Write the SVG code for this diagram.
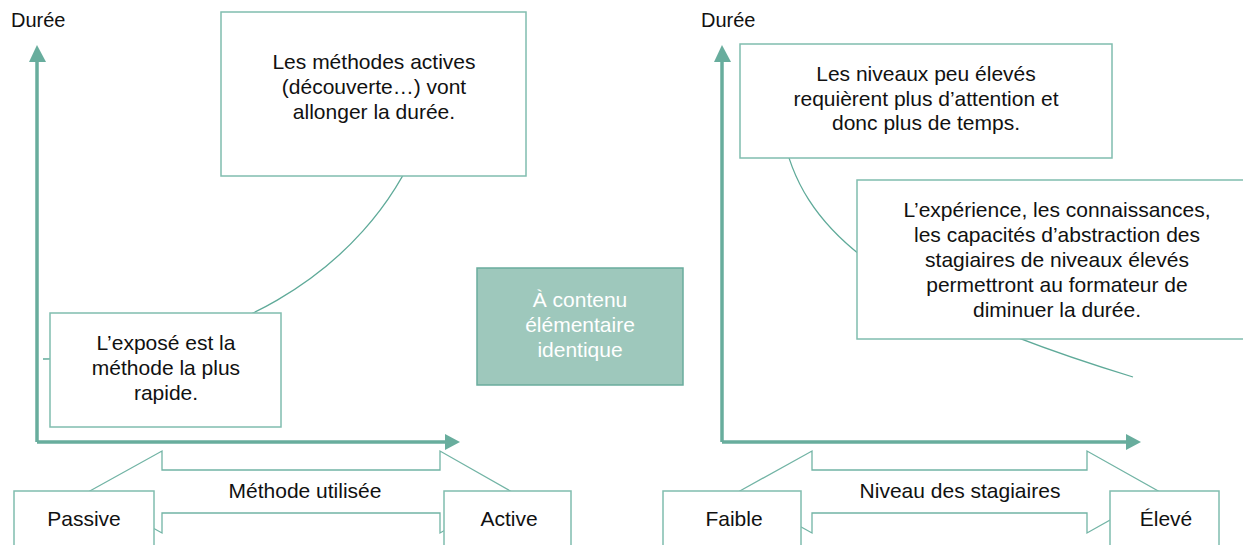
<svg xmlns="http://www.w3.org/2000/svg" width="1243" height="545" viewBox="0 0 1243 545">
  <defs>
    <style>
      .t { font-family: "Liberation Sans", Arial, sans-serif; font-size: 21px; fill: #111; text-anchor: middle; }
      .lbl { font-family: "Liberation Sans", Arial, sans-serif; font-size: 20px; fill: #111; }
      .wt { fill: #ffffff; }
      .box { fill: #ffffff; stroke: #80bdaf; stroke-width: 1.5; }
      .hl { fill: #9ec8bc; stroke: #6aac9d; stroke-width: 1.5; }
      .axis { stroke: #68ad9d; stroke-width: 3.5; fill: none; }
      .head { fill: #68ad9d; }
      .curve { stroke: #5faa99; stroke-width: 1.3; fill: none; }
      .dbl { fill: #ffffff; stroke: #72b4a5; stroke-width: 1.3; }
    </style>
  </defs>
  <rect width="1243" height="545" fill="#ffffff"/>

  <!-- axis titles -->
  <text class="lbl" x="11" y="27">Durée</text>
  <text class="lbl" x="701" y="27">Durée</text>

  <!-- double-headed axis captions (drawn beneath the end boxes) -->
  <g id="range-method">
    <polygon class="dbl" points="88,492 162,451 162,470 440,470 440,451 512,492 440,533 440,513 162,513 162,533"/>
    <text class="t" x="305" y="498">Méthode utilisée</text>
  </g>
  <g id="range-level">
    <polygon class="dbl" points="738,492 812,451 812,470 1087,470 1087,451 1160,492 1087,533 1087,513 812,513 812,533"/>
    <text class="t" x="960" y="498">Niveau des stagiaires</text>
  </g>

  <!-- axes and trend curves -->
  <g id="connectors">
    <path class="axis" d="M37 442 V60 M37 442 H447"/>
    <polygon class="head" points="37,45 29,62 46,62"/>
    <polygon class="head" points="460,442 445,434 445,450"/>
    <path class="axis" d="M722 442 V60 M722 442 H1128"/>
    <polygon class="head" points="722,45 714,62 731,62"/>
    <polygon class="head" points="1141,442 1126,434 1126,450"/>
    <path class="curve" d="M43 359 C220 359 365 275 420 140"/>
    <path class="curve" d="M782 130 C800 230 880 300 1133 377"/>
  </g>

  <g id="note-active">
    <rect class="box" x="221" y="12" width="305" height="164"/>
    <text class="t" x="374" y="69">Les méthodes actives</text>
    <text class="t" x="374" y="94">(découverte…) vont</text>
    <text class="t" x="374" y="119">allonger la durée.</text>
  </g>

  <g id="note-expose">
    <rect class="box" x="50" y="313" width="231" height="114"/>
    <text class="t" x="166" y="350">L’exposé est la</text>
    <text class="t" x="166" y="375">méthode la plus</text>
    <text class="t" x="166" y="400">rapide.</text>
  </g>

  <g id="note-content">
    <rect class="hl" x="477" y="268" width="206" height="117"/>
    <text class="t wt" x="580" y="307">À contenu</text>
    <text class="t wt" x="580" y="332">élémentaire</text>
    <text class="t wt" x="580" y="357">identique</text>
  </g>

  <g id="note-low-level">
    <rect class="box" x="740" y="44" width="372" height="114"/>
    <text class="t" x="926" y="81">Les niveaux peu élevés</text>
    <text class="t" x="926" y="106">requièrent plus d’attention et</text>
    <text class="t" x="926" y="130">donc plus de temps.</text>
  </g>

  <g id="note-high-level">
    <rect class="box" x="857" y="180" width="400" height="159"/>
    <text class="t" x="1057" y="217">L’expérience, les connaissances,</text>
    <text class="t" x="1057" y="242">les capacités d’abstraction des</text>
    <text class="t" x="1057" y="267">stagiaires de niveaux élevés</text>
    <text class="t" x="1057" y="292">permettront au formateur de</text>
    <text class="t" x="1057" y="317">diminuer la durée.</text>
  </g>

  <g id="end-passive">
    <rect class="box" x="14" y="491" width="140" height="70"/>
    <text class="t" x="84" y="526">Passive</text>
  </g>
  <g id="end-active">
    <rect class="box" x="444" y="491" width="127" height="70"/>
    <text class="t" x="509" y="526">Active</text>
  </g>
  <g id="end-low">
    <rect class="box" x="663" y="491" width="138" height="70"/>
    <text class="t" x="734" y="526">Faible</text>
  </g>
  <g id="end-high">
    <rect class="box" x="1110" y="491" width="109" height="70"/>
    <text class="t" x="1166" y="526">Élevé</text>
  </g>
</svg>
